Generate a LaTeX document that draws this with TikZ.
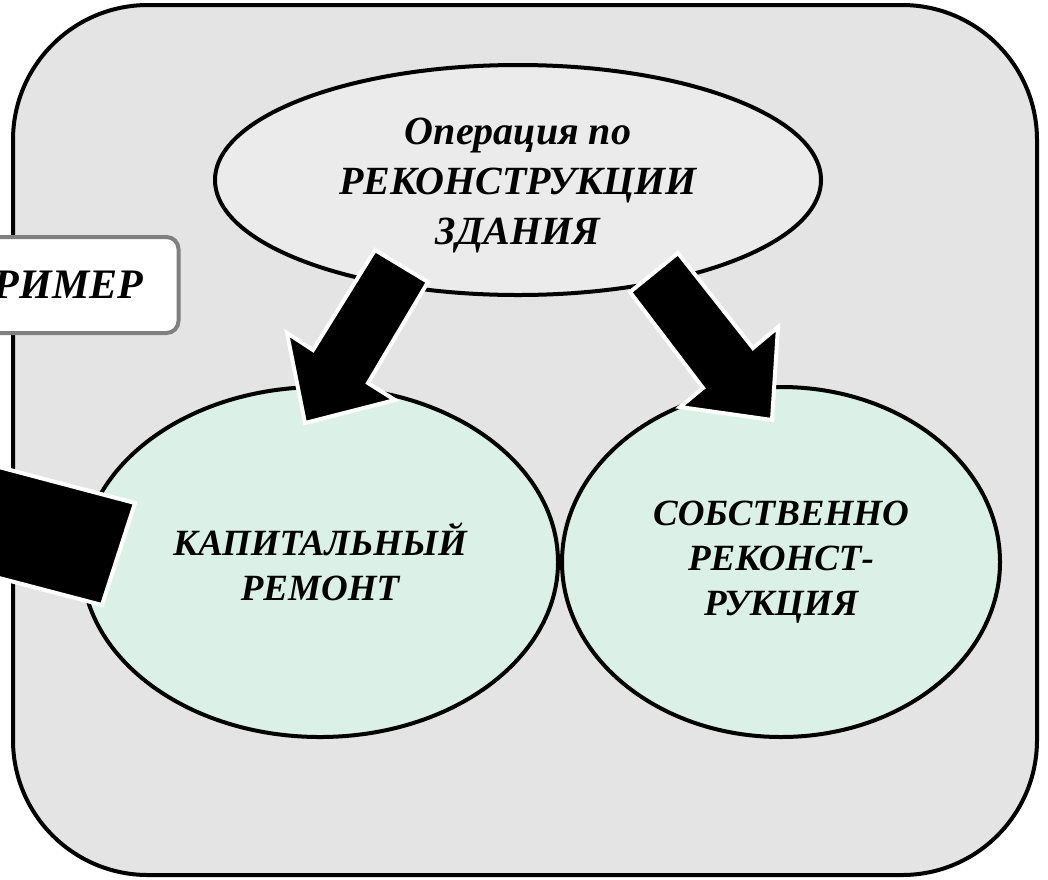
\documentclass[tikz,border=0pt]{standalone}
\usepackage{fontspec}
\setmainfont{Liberation Serif}
\usepackage{tikz}
\usetikzlibrary{shapes.geometric}
\definecolor{panelgray}{HTML}{E4E4E4}
\definecolor{mint}{HTML}{DBF1E8}
\definecolor{stone}{HTML}{EBEBEB}

\begin{document}
\begin{tikzpicture}[x=1pt,y=-1pt,
    oval/.style={ellipse,draw=black,line width=4pt,align=center,inner sep=0pt,
      font=\fontsize{37}{45}\selectfont\bfseries\itshape},
    toptext/.style={align=center,inner sep=0pt,
      font=\fontsize{40}{50}\selectfont\bfseries\itshape},
    blockarrow/.style={fill=black,draw=white,line width=4pt,line join=miter},
    tagbox/.style={rectangle,rounded corners=12pt,draw=gray,fill=white,line width=4pt,
      font=\fontsize{42}{50}\selectfont\bfseries\itshape}]
  \useasboundingbox (0,0) rectangle (1048,879);
  \clip (0,0) rectangle (1048,879);
  \draw[fill=panelgray,line width=4pt,rounded corners=135pt] (13,5) rectangle (1037,875);
  \node[oval,fill=stone,minimum width=606pt,minimum height=230pt] (oper) at (518,180) {};
  \node[toptext] (opertext) at (518,186) {Операция по\\РЕКОНСТРУКЦИИ\\ЗДАНИЯ};
  \node[oval,fill=mint,minimum width=476pt,minimum height=350pt] (kap) at (320,562)
    {КАПИТАЛЬНЫЙ\\РЕМОНТ};
  \node[oval,fill=mint,minimum width=438pt,minimum height=350pt] (sob) at (781,562)
    {СОБСТВЕННО\\РЕКОНСТ-\\РУКЦИЯ};
  \node[tagbox,minimum width=253pt,minimum height=96pt] (primer) at (52,285) {ПРИМЕР};
  \draw[blockarrow] (375,250) -- (428,282) -- (368,383) -- (395,400) -- (305,423)
    -- (287,333) -- (313,350) -- cycle;
  \draw[blockarrow] (678,253) -- (630,292) -- (703,388) -- (680,407) -- (772,420)
    -- (778,327) -- (753,348) -- cycle;
  \draw[blockarrow] (-20,462) -- (135,503) -- (102,605) -- (-20,573) -- cycle;
\end{tikzpicture}
\end{document}
